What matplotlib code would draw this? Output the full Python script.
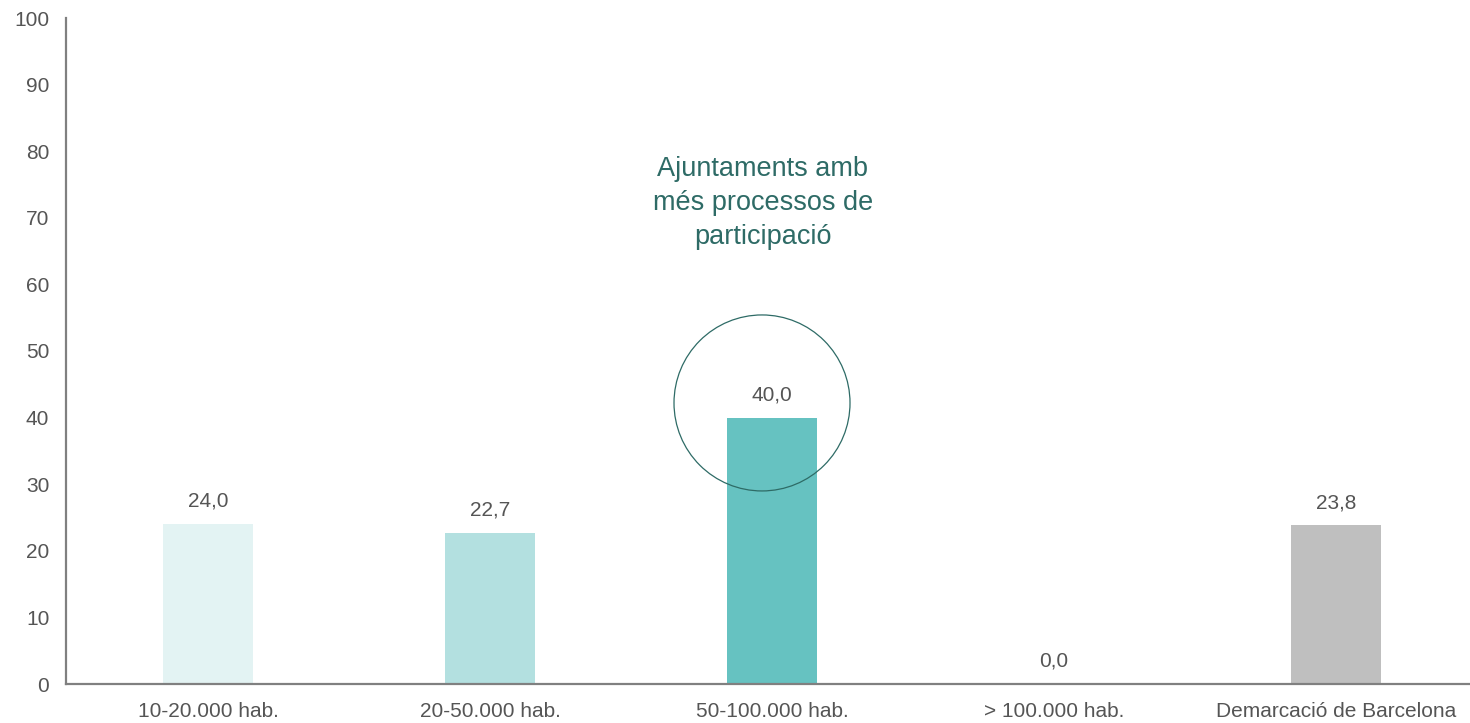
import matplotlib
matplotlib.use("Agg")
import matplotlib.pyplot as plt
from matplotlib.patches import Ellipse

categories = ["10-20.000 hab.", "20-50.000 hab.", "50-100.000 hab.", "> 100.000 hab.", "Demarcació de Barcelona"]
values = [24.0, 22.7, 40.0, 0.0, 23.8]
colors = ["#e3f3f3", "#b3e0e0", "#66c2c1", "#66c2c1", "#bfbfbf"]
yticks = [0, 10, 20, 30, 40, 50, 60, 70, 80, 90, 100]
annotation = "Ajuntaments amb\nmés processos de\nparticipació"

plt.rcParams['font.family'] = ['Liberation Sans', 'DejaVu Sans']

fig = plt.figure(figsize=(14.7, 7.23), dpi=100)
ax = fig.add_axes([66/1470, 39/723, 1404/1470, 666/723])

x = list(range(len(categories)))
ax.bar(x, values, width=0.316, color=colors, zorder=2)
for xi, v in zip(x, values):
    ax.text(xi, v + 2.0, f"{v:.1f}".replace(".", ","), ha="center", va="bottom",
            fontsize=15, color="#555555")

ax.set_xlim(-0.5035, 4.475)
ax.set_ylim(0, 100)
ax.set_yticks(yticks)
ax.set_xticks(x)
ax.set_xticklabels(categories)
ax.tick_params(axis="both", length=0, labelsize=15, labelcolor="#555555")
ax.tick_params(axis="x", pad=13)
ax.tick_params(axis="y", pad=12)
for s in ["top", "right"]:
    ax.spines[s].set_visible(False)
for s in ["left", "bottom"]:
    ax.spines[s].set_color("#808080")
    ax.spines[s].set_linewidth(1.6)

ax.add_patch(Ellipse((1.9645, 42.2), width=176/282, height=176/6.66, fill=False,
                     edgecolor="#2e6b66", linewidth=0.9, zorder=3))
ax.text(1.967, 72.2, annotation, ha="center", va="center", fontsize=19.5,
        color="#2e6b66", linespacing=1.4)

fig.savefig("out.png", dpi=100)
